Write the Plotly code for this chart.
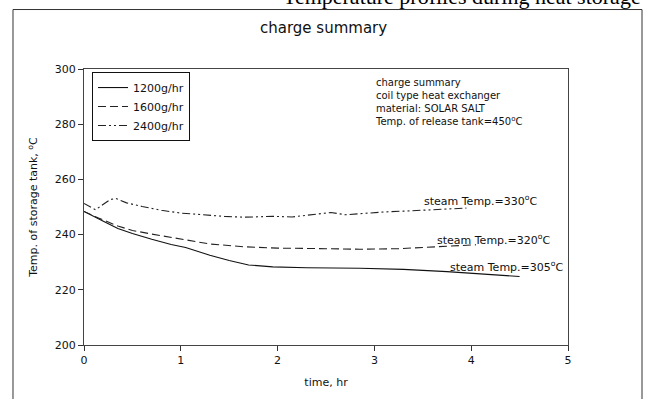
import plotly.graph_objects as go

# ---- data ----
t_1200 = [0, 0.1, 0.2, 0.35, 0.5, 0.7, 0.9, 1.05, 1.3, 1.5, 1.7, 1.95, 2.3, 2.85, 3.3, 3.75, 4.1, 4.5]
T_1200 = [248.4, 246.5, 244.8, 242.2, 240.4, 238.3, 236.4, 235.3, 232.5, 230.6, 229.0, 228.3, 228.0, 227.8, 227.4, 226.6, 225.8, 224.8]

t_1600 = [0, 0.15, 0.35, 0.5, 0.7, 1.05, 1.3, 1.65, 2.0, 2.5, 2.85, 3.25, 3.6, 3.85, 4.05]
T_1600 = [248.4, 246.0, 243.1, 241.5, 240.2, 238.0, 236.6, 235.6, 235.1, 234.9, 234.7, 234.9, 235.6, 236.0, 236.3]

t_2400 = [0, 0.06, 0.12, 0.2, 0.27, 0.33, 0.44, 0.6, 0.8, 1.0, 1.2, 1.45, 1.65, 1.95, 2.15, 2.35,
          2.55, 2.7, 2.9, 3.1, 3.3, 3.55, 3.75, 3.95]
T_2400 = [251.3, 250.0, 249.0, 251.0, 252.7, 253.1, 251.5, 250.2, 248.8, 247.8, 247.2, 246.6, 246.3,
          246.6, 246.4, 247.2, 248.0, 247.2, 247.8, 248.2, 248.5, 249.0, 249.3, 249.6]

series_names = ["1200g/hr", "1600g/hr", "2400g/hr"]
x_ticks = [0, 1, 2, 3, 4, 5]
y_ticks = [200, 220, 240, 260, 280, 300]

info_lines = ["charge summary", "coil type heat exchanger", "material: SOLAR SALT",
              "Temp. of release tank=450<sup>o</sup>C"]
steam_labels = ["steam Temp.=330<sup>o</sup>C", "steam Temp.=320<sup>o</sup>C", "steam Temp.=305<sup>o</sup>C"]
steam_label_x = [3.49, 3.625, 3.76]
steam_label_y = [252.3, 238.4, 228.4]

FONT = "DejaVu Sans"

fig = go.Figure()
fig.add_trace(go.Scatter(x=t_1200, y=T_1200, mode="lines", name=series_names[0],
                         line=dict(color="#111111", width=1.1, dash="solid")))
fig.add_trace(go.Scatter(x=t_1600, y=T_1600, mode="lines", name=series_names[1],
                         line=dict(color="#222222", width=1.1, dash="8px,4px")))
fig.add_trace(go.Scatter(x=t_2400, y=T_2400, mode="lines", name=series_names[2],
                         line=dict(color="#222222", width=1.1, dash="8px,3px,2px,3px,2px,3px")))

annotations = []
# info block (one multi-line text)
annotations.append(dict(x=2.99, y=298.0, xref="x", yref="y", text="<br>".join(info_lines),
                        showarrow=False, xanchor="left", yanchor="top", align="left",
                        font=dict(family=FONT, size=10, color="#111")))
for txt, xx, yy in zip(steam_labels, steam_label_x, steam_label_y):
    annotations.append(dict(x=xx, y=yy, xref="x", yref="y", text=txt, showarrow=False,
                            xanchor="left", yanchor="middle",
                            font=dict(family=FONT, size=11, color="#111")))
# chart title
annotations.append(dict(x=0.494, y=1.148, xref="paper", yref="paper", text="charge summary",
                        showarrow=False, xanchor="center", yanchor="middle",
                        font=dict(family=FONT, size=15, color="#111")))
# caption cut off at the top of the picture
annotations.append(dict(x=1.155, y=1.2085, xref="paper", yref="paper",
                        text="Temperature profiles during heat storage",
                        showarrow=False, xanchor="right", yanchor="bottom",
                        font=dict(family="Liberation Serif", size=22, color="#000")))

shapes = [
    dict(type="rect", xref="paper", yref="paper", x0=-0.1467, x1=1.1529, y0=-0.3, y1=1.2155,
         line=dict(color="#333", width=1), layer="below"),
]

fig.update_layout(
    width=645, height=399, autosize=False,
    margin=dict(l=84, r=77, t=69, b=47),
    paper_bgcolor="white", plot_bgcolor="white",
    font=dict(family=FONT, size=11, color="#111"),
    showlegend=True,
    legend=dict(x=0.0165, y=0.989, xanchor="left", yanchor="top",
                bordercolor="#111", borderwidth=1, bgcolor="white",
                font=dict(family=FONT, size=11, color="#111"),
                tracegroupgap=0, itemwidth=30),
    annotations=annotations,
    shapes=shapes,
)
fig.update_xaxes(range=[0, 5], tickvals=x_ticks, ticks="outside", ticklen=5, tickcolor="#333",
                 showline=True, linecolor="#444", linewidth=1, mirror=True, showgrid=False, zeroline=False,
                 title=dict(text="time, hr", standoff=12, font=dict(family=FONT, size=11)),
                 tickfont=dict(family=FONT, size=11))
fig.update_yaxes(range=[200, 300], tickvals=y_ticks, ticks="outside", ticklen=5, tickcolor="#333",
                 showline=True, linecolor="#444", linewidth=1, mirror=True, showgrid=False, zeroline=False,
                 title=dict(text="Temp. of storage tank, <sup>o</sup>C", standoff=14, font=dict(family=FONT, size=11)),
                 tickfont=dict(family=FONT, size=11))

fig.write_html("out.html")
